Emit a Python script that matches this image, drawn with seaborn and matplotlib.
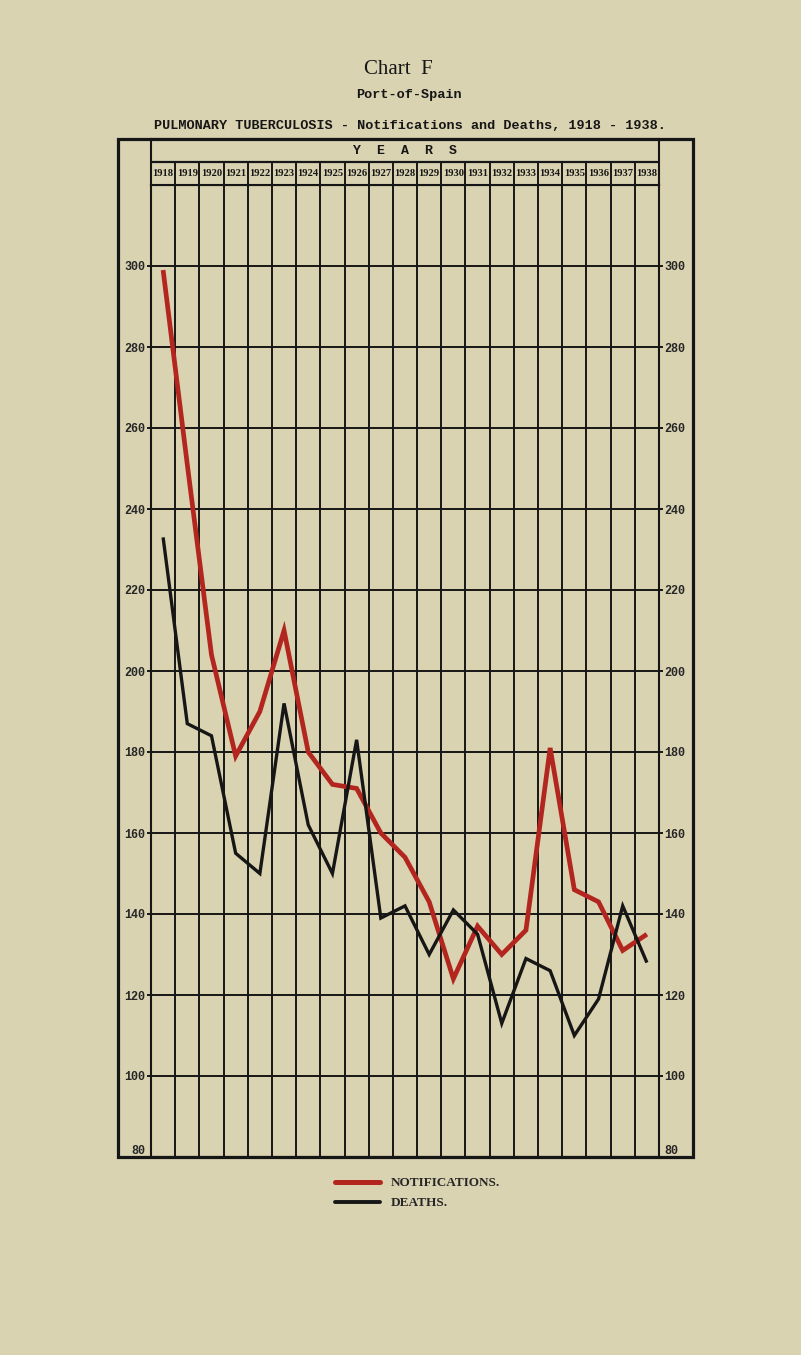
import numpy as np
import pandas as pd
import matplotlib.pyplot as plt
import seaborn as sns
from matplotlib.lines import Line2D
from matplotlib.patches import Rectangle

# Datos (Port-of-Spain, 1918 - 1938)
years = list(range(1918, 1939))
notificaciones = [299, 251, 204, 179, 190, 210, 180, 172, 171, 160, 154,
                  143, 124, 137, 130, 136, 181, 146, 143, 131, 135]
muertes = [233, 187, 184, 155, 150, 192, 162, 150, 183, 139, 142,
           130, 141, 135, 113, 129, 126, 110, 119, 142, 128]
series = ['NOTIFICATIONS.', 'DEATHS.']
y_ticks = list(range(80, 301, 20))

df = pd.DataFrame({
    'year': years * 2,
    'valor': notificaciones + muertes,
    'serie': [series[0]] * len(years) + [series[1]] * len(years),
})

# Colores
papel = '#d9d3b1'
rojo = '#b3261f'
negro = '#161616'

sns.set_style('white')
plt.rcParams['font.family'] = ['Liberation Serif', 'DejaVu Serif']
mono = ['Liberation Mono', 'DejaVu Sans Mono']

W, H = 801, 1355
fig = plt.figure(figsize=(W / 100, H / 100), dpi=100, facecolor=papel)

# Ejes principales (zona de la cuadricula)
ax = fig.add_axes([151 / W, 1 - 1157 / H, 508 / W, 972 / H])
ax.set_facecolor(papel)

sns.lineplot(data=df, x='year', y='valor', hue='serie', hue_order=series,
             size='serie', size_order=series,
             palette={series[0]: rojo, series[1]: negro},
             sizes={series[0]: 3.4, series[1]: 2.4},
             legend=False, sort=False, ax=ax)
for l in ax.lines:
    l.set_solid_joinstyle('miter')
    l.set_solid_capstyle('butt')

ax.set_xlim(1917.5, 1938.5)
ax.set_ylim(80, 320)
ax.set_xlabel('')
ax.set_ylabel('')

# lineas verticales entre anios
ax.set_xticks(np.arange(1918.5, 1938, 1))
ax.set_xticklabels([])
ax.tick_params(axis='x', length=0)
ax.grid(axis='x', color=negro, lw=1.4)

ax.set_yticks(y_ticks)
ax.grid(axis='y', color=negro, lw=1.4)
ax.tick_params(axis='y', left=True, right=True, labelleft=True, labelright=True,
               length=3, width=1.4, color=negro, pad=1, labelsize=8.5)
for t in ax.get_yticklabels():
    t.set_fontfamily(mono)
    t.set_fontweight('bold')
    if t.get_text() == '80':
        t.set_va('bottom')
ax.set_axisbelow(True)
for s in ax.spines.values():
    s.set_color(negro)
    s.set_linewidth(1.5)

# Encabezado: YEARS y los anios
ax_h = fig.add_axes([151 / W, 1 - 185 / H, 508 / W, 46 / H])
ax_h.set_facecolor(papel)
ax_h.set_xlim(1917.5, 1938.5)
ax_h.set_ylim(0, 2)
ax_h.set_xticks([])
ax_h.set_yticks([])
ax_h.axhline(1, color=negro, lw=1.6)
ax_h.vlines(np.arange(1918.5, 1938, 1), 0, 1, color=negro, lw=1.4)
for y in years:
    ax_h.text(y, 0.5, str(y), ha='center', va='center', fontsize=7.6,
              fontweight='bold', color=negro)
ax_h.text(1928, 1.5, 'Y  E  A  R  S', ha='center', va='center', fontsize=9.5,
          fontweight='bold', family=mono, color=negro)
for s in ax_h.spines.values():
    s.set_color(negro)
    s.set_linewidth(1.5)

# Marco exterior
fig.add_artist(Rectangle((118 / W, 1 - 1157 / H), (693 - 118) / W, (1157 - 139) / H,
                         transform=fig.transFigure, fill=False, lw=2.3, color=negro))

# Titulos
fig.text(398 / W, 1 - 69 / H, 'Chart  F', ha='center', va='center', fontsize=15,
         color=negro)
fig.text(409 / W, 1 - 95 / H, 'Port-of-Spain', ha='center', va='center',
         fontsize=9.7, fontweight='bold', family=mono, color=negro)
fig.text(410 / W, 1 - 126 / H,
         'PULMONARY TUBERCULOSIS - Notifications and Deaths, 1918 - 1938.',
         ha='center', va='center', fontsize=9.7, fontweight='bold', family=mono,
         color=negro)

# Leyenda
handles = [Line2D([], [], color=rojo, lw=3.6), Line2D([], [], color=negro, lw=2.8)]
fig.legend(handles, series, loc='upper left', bbox_to_anchor=(335 / W, 1 - 1177 / H),
           frameon=False, handlelength=3.4, handletextpad=0.8, labelspacing=0.6,
           borderpad=0, borderaxespad=0,
           prop={'family': ['Liberation Serif', 'DejaVu Serif'], 'weight': 'bold', 'size': 9.5})

fig.savefig('out.png', dpi=100, facecolor=papel)
